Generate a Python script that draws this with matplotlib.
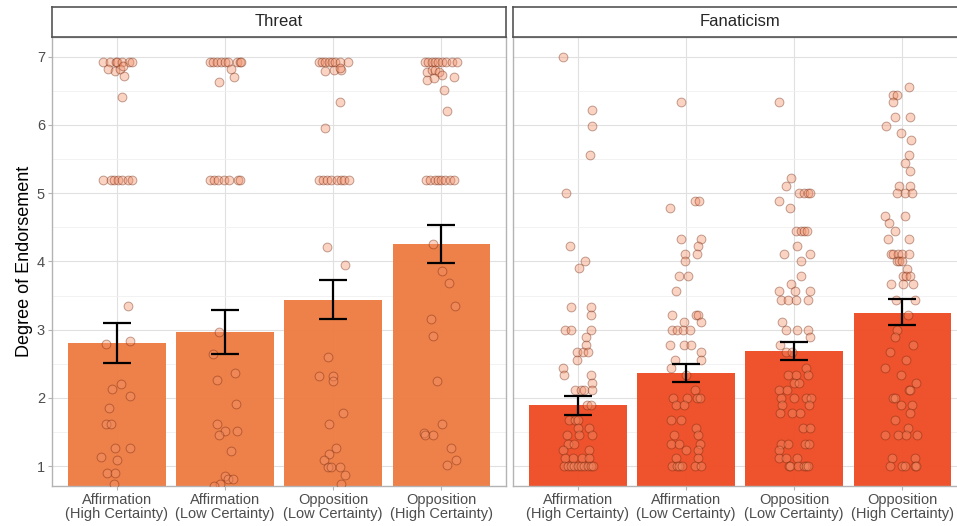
"""Threat / Fanaticism: mean endorsement per condition, with CI and raw responses."""

import matplotlib
matplotlib.use("Agg")
import matplotlib.pyplot as plt
from matplotlib.ticker import MultipleLocator

plt.rcParams["font.family"] = ["Liberation Sans", "DejaVu Sans"]

CATEGORIES = ["Affirmation\n(High Certainty)", "Affirmation\n(Low Certainty)",
              "Opposition\n(Low Certainty)", "Opposition\n(High Certainty)"]
PANELS = ["Threat", "Fanaticism"]

# bar heights and confidence limits
threat_mean = [2.80, 2.96, 3.44, 4.25]
threat_low = [2.51, 2.64, 3.15, 3.97]
threat_high = [3.10, 3.29, 3.73, 4.54]
fanat_mean = [1.89, 2.36, 2.69, 3.25]
fanat_low = [1.75, 2.23, 2.56, 3.07]
fanat_high = [2.02, 2.50, 2.82, 3.45]

# raw responses (y) and their horizontal jitter (dx) per condition
threat_1_y = [6.93, 6.93, 6.93, 6.93, 6.93, 6.93, 6.93, 6.82, 6.79, 6.82, 6.86, 6.72, 6.41,
              5.20, 5.20, 5.20, 5.20, 5.20, 5.20, 5.20,
              3.35, 2.79, 2.83, 2.13, 2.20, 2.03, 1.85, 1.61, 1.61, 1.27, 1.27, 1.13, 1.09,
              0.90, 0.90, 0.73]
threat_1_dx = [-0.13, -0.065, -0.01, 0.005, 0.05, 0.11, 0.14, -0.08, -0.015, 0.025, 0.06, 0.07, 0.05,
               -0.13, -0.055, -0.025, 0.01, 0.05, 0.1, 0.14,
               0.105, -0.105, 0.125, -0.045, 0.035, 0.12, -0.075, -0.10, -0.05, -0.02, 0.12, -0.15, 0.0,
               -0.09, -0.02, -0.03]
threat_2_y = [6.93, 6.93, 6.93, 6.93, 6.93, 6.93, 6.93, 6.93, 6.93, 6.82, 6.70, 6.63,
              5.20, 5.20, 5.20, 5.20, 5.20, 5.20, 5.20,
              2.96, 2.64, 2.37, 2.26, 1.91, 1.61, 1.52, 1.52, 1.45, 1.22, 0.86, 0.81, 0.81, 0.74, 0.71]
threat_2_dx = [-0.14, -0.115, -0.075, -0.035, 0.0, 0.03, 0.11, 0.135, 0.15, 0.055, 0.08, -0.055,
               -0.135, -0.105, -0.06, -0.01, 0.035, 0.12, 0.14,
               -0.055, -0.115, 0.095, -0.07, 0.1, -0.07, 0.0, 0.11, -0.055, 0.055, 0.0, 0.03, 0.075, -0.05, -0.105]
threat_3_y = [6.93, 6.93, 6.93, 6.93, 6.93, 6.93, 6.93, 6.93, 6.79, 6.80, 6.80, 6.84, 6.33, 5.96,
              5.20, 5.20, 5.20, 5.20, 5.20, 5.20, 5.20, 5.20,
              4.21, 3.95, 2.60, 2.32, 2.32, 2.25, 1.77, 1.61, 1.27, 1.18, 1.09, 0.99, 0.99, 0.99, 0.87, 0.73]
threat_3_dx = [-0.13, -0.10, -0.07, -0.04, -0.01, 0.02, 0.06, 0.14, -0.07, 0.01, 0.07, 0.06, 0.06, -0.07,
               -0.13, -0.095, -0.055, -0.015, 0.035, 0.07, 0.1, 0.145,
               -0.06, 0.11, -0.045, -0.13, 0.0, 0.0, 0.09, -0.035, 0.03, -0.04, -0.08, -0.05, -0.02, 0.06, 0.11, 0.07]
threat_4_y = [6.93, 6.93, 6.93, 6.93, 6.93, 6.93, 6.93, 6.93, 6.93,
              6.78, 6.80, 6.81, 6.78, 6.73, 6.66, 6.69, 6.71, 6.52, 6.21,
              5.20, 5.20, 5.20, 5.20, 5.20, 5.20, 5.20, 5.20,
              4.25, 3.86, 3.69, 3.35, 3.15, 2.91, 2.25, 1.61, 1.49, 1.45, 1.45, 1.27, 1.09, 1.02]
threat_4_dx = [-0.15, -0.12, -0.085, -0.06, -0.03, 0.01, 0.045, 0.1, 0.145,
               -0.13, -0.085, -0.055, -0.02, 0.01, -0.13, -0.07, 0.12, 0.03, 0.05,
               -0.14, -0.10, -0.06, -0.03, 0.0, 0.04, 0.08, 0.12,
               -0.075, 0.005, 0.07, 0.13, -0.09, -0.075, -0.04, 0.01, -0.155, -0.15, -0.075, 0.09, 0.135, 0.055]

fanat_1_y = [7.00, 6.22, 5.99, 5.56, 5.00, 4.22, 4.00, 3.90, 3.33, 3.33, 3.22, 3.00, 3.00, 3.00,
             2.89, 2.78, 2.67, 2.67, 2.67, 2.56, 2.44, 2.33, 2.33, 2.22, 2.11, 2.11, 2.11, 2.11,
             1.89, 1.89, 1.67, 1.67, 1.67, 1.56, 1.56, 1.45, 1.45, 1.45, 1.33, 1.33, 1.23, 1.23,
             1.12, 1.12, 1.12, 1.12, 1.00, 1.00, 1.00, 1.00, 1.00, 1.00, 1.00, 1.00, 1.00, 1.00]
fanat_1_dx = [-0.14, 0.135, 0.135, 0.115, -0.11, -0.075, 0.07, 0.01, -0.06, 0.125, 0.125, -0.115, -0.06, 0.125,
              0.075, 0.075, -0.01, 0.05, 0.09, -0.01, -0.14, -0.125, 0.12, 0.13, -0.03, 0.025, 0.06, 0.135,
              0.08, 0.125, -0.08, -0.03, 0.005, 0.005, 0.1, -0.105, 0.01, 0.13, -0.095, -0.035, -0.135, 0.105,
              -0.12, -0.045, 0.035, 0.105, -0.125, -0.095, -0.065, -0.035, 0.0, 0.03, 0.06, 0.09, 0.12, 0.14]
fanat_2_y = [6.33, 4.78, 4.89, 4.89, 4.33, 4.33, 4.22, 4.11, 4.11, 4.00, 3.78, 3.78, 3.56,
             3.22, 3.22, 3.22, 3.11, 3.11, 3.00, 3.00, 3.00, 3.00, 2.78, 2.78, 2.78, 2.67, 2.56, 2.56,
             2.44, 2.34, 2.11, 2.00, 2.00, 2.00, 2.00, 1.89, 1.89, 1.67, 1.67, 1.56, 1.45, 1.45,
             1.33, 1.33, 1.33, 1.23, 1.23, 1.12, 1.12, 1.00, 1.00, 1.00, 1.00, 1.00, 1.00]
fanat_2_dx = [-0.05, -0.15, 0.085, 0.125, -0.045, 0.14, 0.115, -0.01, 0.10, -0.01, -0.06, 0.02, -0.095,
              -0.125, 0.09, 0.115, -0.02, 0.135, -0.125, -0.085, -0.03, 0.035, -0.15, -0.015, 0.05, 0.135, -0.10, 0.14,
              -0.14, 0.0, 0.085, -0.12, 0.01, 0.10, 0.13, -0.09, -0.02, -0.14, -0.05, 0.09, -0.11, 0.11,
              -0.14, -0.065, 0.13, 0.0, 0.115, -0.095, 0.11, -0.13, -0.08, -0.06, -0.04, 0.08, 0.135]
fanat_3_y = [6.33, 5.22, 5.11, 5.00, 5.00, 5.00, 5.00, 4.89, 4.78, 4.44, 4.44, 4.44, 4.44, 4.22,
             4.11, 4.11, 4.00, 3.78, 3.67, 3.56, 3.56, 3.56, 3.44, 3.44, 3.44, 3.44, 3.11,
             3.00, 3.00, 3.00, 2.89, 2.78, 2.67, 2.67, 2.44, 2.33, 2.33, 2.33, 2.22, 2.22, 2.11, 2.11,
             2.00, 2.00, 2.00, 2.00, 1.89, 1.89, 1.78, 1.78, 1.78, 1.56, 1.56, 1.33, 1.33, 1.33, 1.33,
             1.23, 1.12, 1.12, 1.12, 1.00, 1.00, 1.00, 1.00, 1.00, 1.00]
fanat_3_dx = [-0.14, -0.025, -0.075, 0.05, 0.09, 0.125, 0.145, -0.14, -0.035, 0.02, 0.065, 0.095, 0.12, 0.03,
              -0.09, 0.15, 0.06, 0.06, -0.025, -0.14, 0.01, 0.15, -0.125, -0.055, 0.015, 0.13, -0.115,
              -0.075, 0.03, 0.125, 0.15, -0.13, -0.075, -0.015, 0.11, -0.055, 0.02, 0.125, 0.0, 0.05, -0.135, -0.065,
              -0.12, 0.0, 0.11, 0.155, -0.11, 0.135, -0.13, -0.02, 0.055, 0.08, 0.145, -0.12, -0.06, 0.105, 0.14,
              -0.14, -0.135, -0.075, 0.03, -0.045, -0.035, 0.035, 0.095, 0.11, 0.13]
fanat_4_y = [6.56, 6.44, 6.44, 6.33, 6.11, 6.11, 5.99, 5.88, 5.78, 5.56, 5.44, 5.33, 5.11, 5.11,
             5.00, 5.00, 5.00, 4.67, 4.67, 4.56, 4.44, 4.33, 4.33, 4.11, 4.11, 4.11, 4.11, 4.11,
             4.00, 4.00, 4.00, 3.89, 3.78, 3.78, 3.78, 3.67, 3.67, 3.67, 3.44, 3.44, 3.22, 3.00,
             2.89, 2.78, 2.67, 2.56, 2.44, 2.33, 2.22, 2.11, 2.11, 2.00, 2.00, 1.89, 1.89, 1.78,
             1.67, 1.56, 1.45, 1.45, 1.45, 1.45, 1.12, 1.12, 1.00, 1.00, 1.00, 1.00, 1.00]
fanat_4_dx = [0.06, -0.08, -0.045, -0.085, -0.07, 0.07, -0.145, -0.01, 0.085, 0.06, 0.03, 0.075, -0.03, 0.075,
              -0.045, 0.03, 0.095, -0.155, 0.03, -0.125, -0.07, -0.13, 0.06, -0.1, -0.08, -0.035, 0.0, 0.06,
              -0.05, -0.03, 0.0, 0.045, 0.01, 0.04, 0.075, -0.105, 0.01, 0.105, -0.055, 0.115, 0.055, -0.05,
              -0.065, 0.105, -0.11, 0.035, -0.155, -0.01, 0.13, 0.06, 0.075, -0.085, -0.07, -0.01, 0.09, 0.075,
              -0.07, 0.055, -0.155, -0.04, 0.035, 0.135, -0.09, 0.115, -0.11, 0.0, 0.03, 0.115, 0.128]

threat_points = [(threat_1_dx, threat_1_y), (threat_2_dx, threat_2_y),
                 (threat_3_dx, threat_3_y), (threat_4_dx, threat_4_y)]
fanat_points = [(fanat_1_dx, fanat_1_y), (fanat_2_dx, fanat_2_y),
                (fanat_3_dx, fanat_3_y), (fanat_4_dx, fanat_4_y)]

BAR_COLORS = {"Threat": "#EE7A40", "Fanaticism": "#EE4A22"}
W, H = 957, 526


def draw_panel(fig, left_px, title, means, lows, highs, points, show_y):
    # axes in pixel terms -> figure fraction
    ax = fig.add_axes([left_px / W, 40 / H, 454 / W, 449 / H])
    strip = fig.add_axes([left_px / W, 489 / H, 454 / W, 30 / H])

    xs = list(range(1, len(CATEGORIES) + 1))
    ax.bar(xs, means, width=0.9, color=BAR_COLORS[title], alpha=0.95, zorder=2)
    for x, (dx, ys) in zip(xs, points):
        ax.scatter([x + d for d in dx], ys, s=40, facecolor="#F3916A", edgecolor="#6B1E05",
                   linewidths=0.7, alpha=0.4, zorder=3)
    err = [[m - lo for m, lo in zip(means, lows)], [hi - m for m, hi in zip(means, highs)]]
    ax.errorbar(xs, means, yerr=err, fmt="none", ecolor="black", elinewidth=1.6,
                capsize=10, capthick=1.6, zorder=4)

    ax.set_xlim(0.4, 4.6)
    ax.set_ylim(0.707, 7.29)
    ax.set_xticks(xs)
    ax.set_xticklabels(CATEGORIES, fontsize=10.5, color="#4d4d4d", linespacing=1.05)
    ax.yaxis.set_major_locator(MultipleLocator(1))
    ax.yaxis.set_minor_locator(MultipleLocator(0.5))
    ax.tick_params(axis="both", which="major", length=3, color="#b3b3b3",
                   labelsize=10.5, labelcolor="#4d4d4d", pad=2)
    ax.tick_params(axis="y", which="minor", length=0)
    if not show_y:
        ax.tick_params(axis="y", labelleft=False, length=0)
    ax.grid(which="major", color="#e0e0e0", linewidth=0.8, zorder=0)
    ax.grid(which="minor", axis="y", color="#f0f0f0", linewidth=0.6, zorder=0)
    ax.set_axisbelow(True)
    for sp in ax.spines.values():
        sp.set_color("#b3b3b3")
        sp.set_linewidth(1.0)

    strip.set_xticks([])
    strip.set_yticks([])
    for sp in strip.spines.values():
        sp.set_color("#555555")
        sp.set_linewidth(1.2)
    strip.text(0.5, 0.5, title, ha="center", va="center", fontsize=12, color="#262626",
               transform=strip.transAxes)
    return ax


def main():
    fig = plt.figure(figsize=(W / 100, H / 100), dpi=100)
    ax = draw_panel(fig, 52, "Threat", threat_mean, threat_low, threat_high, threat_points, True)
    draw_panel(fig, 513, "Fanaticism", fanat_mean, fanat_low, fanat_high, fanat_points, False)
    ax.set_ylabel("Degree of Endorsement", fontsize=13, color="black", labelpad=3)
    fig.savefig("out.png", dpi=100)


if __name__ == "__main__":
    main()
